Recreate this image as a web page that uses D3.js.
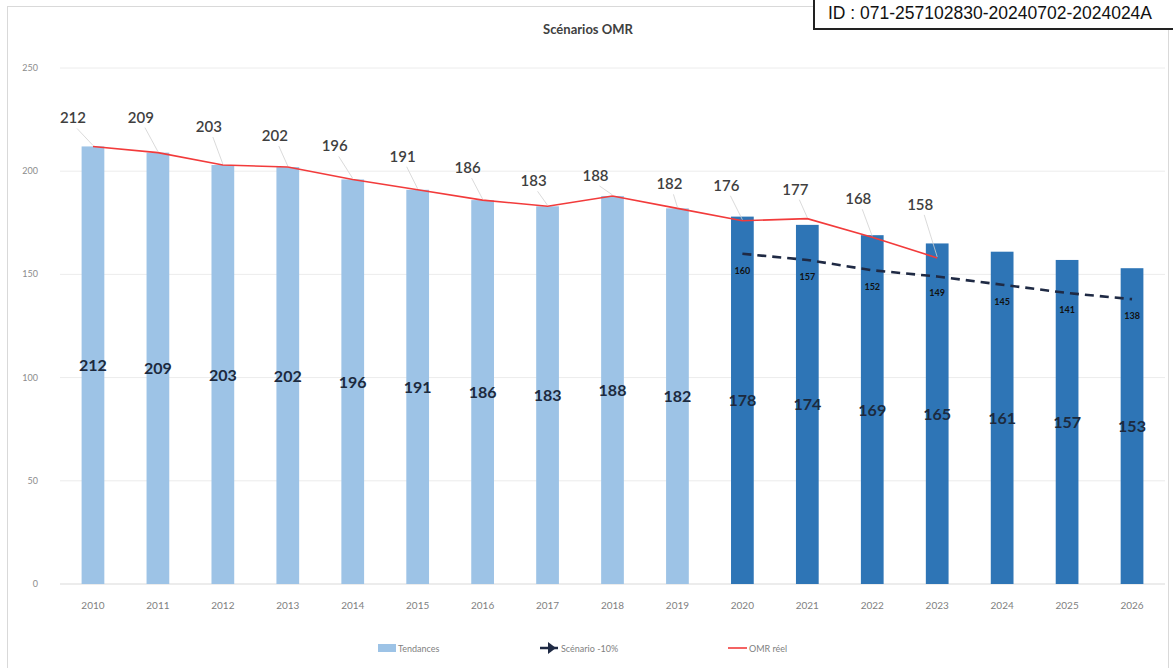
<!DOCTYPE html>
<html>
<head>
<meta charset="utf-8">
<script src="https://cdn.jsdelivr.net/npm/d3@7"></script>
<style>
  body { margin: 0; background: #fff; }
  svg { display: block; }
</style>
</head>
<body>
<div id="chart"></div>
<script>
var years = ["2010", "2011", "2012", "2013", "2014", "2015", "2016", "2017", "2018",
             "2019", "2020", "2021", "2022", "2023", "2024", "2025", "2026"];
var tendances = [212, 209, 203, 202, 196, 191, 186, 183, 188, 182, 178, 174, 169, 165, 161, 157, 153];
var omrYears = ["2010", "2011", "2012", "2013", "2014", "2015", "2016", "2017", "2018",
                "2019", "2020", "2021", "2022", "2023"];
var omrReel = [212, 209, 203, 202, 196, 191, 186, 183, 188, 182, 176, 177, 168, 158];
var scenarioYears = ["2020", "2021", "2022", "2023", "2024", "2025", "2026"];
var scenario = [160, 157, 152, 149, 145, 141, 138];
var yTicks = [0, 50, 100, 150, 200, 250];

// hand-placed label offsets for the "OMR réel" labels (dx, dy from the point)
var omrLabelShift = [[-20, -28], [-17, -35], [-14, -38], [-13, -31], [-18, -33], [-15, -33],
                     [-15, -32], [-14, -25], [-17, -20], [-8, -24], [-16, -35], [-12, -29],
                     [-14, -38], [-17, -53]];

var width = 1173, height = 668;

var svg = d3.select("#chart").append("svg")
    .attr("width", width)
    .attr("height", height)
    .style("font-family", "Lato, 'Open Sans', sans-serif");

// outer frame
svg.append("rect")
    .attr("x", 7.5).attr("y", 6.5)
    .attr("width", 1161).attr("height", 670)
    .attr("fill", "#fff")
    .attr("stroke", "#d9d9d9");

var x = d3.scaleBand()
    .domain(years)
    .range([60.5, 1164.5])
    .paddingInner(0.65)
    .paddingOuter(0.325);

var y = d3.scaleLinear()
    .domain([0, 250])
    .range([584, 68]);

function cx(yr) { return x(yr) + x.bandwidth() / 2; }

// gridlines
svg.append("g").selectAll("line")
    .data(yTicks.filter(function(d) { return d > 0; }))
    .enter().append("line")
    .attr("x1", 60).attr("x2", 1165)
    .attr("y1", function(d) { return y(d); })
    .attr("y2", function(d) { return y(d); })
    .attr("stroke", "#ececec");

svg.append("line")
    .attr("x1", 60).attr("x2", 1165)
    .attr("y1", y(0)).attr("y2", y(0))
    .attr("stroke", "#d9d9d9");

// y axis labels
svg.append("g").selectAll("text")
    .data(yTicks)
    .enter().append("text")
    .attr("x", 38)
    .attr("y", function(d) { return y(d) + 3; })
    .attr("text-anchor", "end")
    .attr("font-size", 9)
    .attr("fill", "#8c8c8c")
    .text(function(d) { return d; });

// x axis labels
svg.append("g").selectAll("text")
    .data(years)
    .enter().append("text")
    .attr("x", function(d) { return cx(d); })
    .attr("y", 609)
    .attr("text-anchor", "middle")
    .attr("font-size", 10)
    .attr("fill", "#7f7f7f")
    .text(function(d) { return d; });

// bars
svg.append("g").selectAll("rect")
    .data(years)
    .enter().append("rect")
    .attr("x", function(d) { return x(d); })
    .attr("width", x.bandwidth())
    .attr("y", function(d, i) { return y(tendances[i]); })
    .attr("height", function(d, i) { return y(0) - y(tendances[i]); })
    .attr("fill", function(d) { return +d >= 2020 ? "#2e75b6" : "#9dc3e6"; });

// bar value labels
svg.append("g").selectAll("text")
    .data(years)
    .enter().append("text")
    .attr("x", function(d) { return cx(d); })
    .attr("y", function(d, i) { return y(tendances[i] / 2) + 6; })
    .attr("text-anchor", "middle")
    .attr("font-size", 16)
    .attr("font-weight", "bold")
    .attr("fill", "#1c2a3e")
    .text(function(d, i) { return tendances[i]; });

// OMR réel line
var omrLine = d3.line()
    .x(function(d) { return cx(d); })
    .y(function(d, i) { return y(omrReel[i]); });

svg.append("path")
    .datum(omrYears)
    .attr("d", omrLine)
    .attr("fill", "none")
    .attr("stroke", "#f23b3b")
    .attr("stroke-width", 1.6);

// scenario line
var scLine = d3.line()
    .x(function(d) { return cx(d); })
    .y(function(d, i) { return y(scenario[i]); });

svg.append("path")
    .datum(scenarioYears)
    .attr("d", scLine)
    .attr("fill", "none")
    .attr("stroke", "#1f2a44")
    .attr("stroke-width", 2.6)
    .attr("stroke-dasharray", "9,6");

svg.append("g").selectAll("text")
    .data(scenarioYears)
    .enter().append("text")
    .attr("x", function(d) { return cx(d); })
    .attr("y", function(d, i) { return y(scenario[i]) + 20; })
    .attr("text-anchor", "middle")
    .attr("font-size", 9)
    .attr("font-weight", "bold")
    .attr("fill", "#111")
    .text(function(d, i) { return scenario[i]; });

// OMR réel labels with leader lines
var omrLabels = svg.append("g");
omrYears.forEach(function(yr, i) {
    var px = cx(yr), py = y(omrReel[i]);
    var lx = px + omrLabelShift[i][0], ly = py + omrLabelShift[i][1] + 5;
    omrLabels.append("line")
        .attr("x1", lx + 4).attr("y1", ly + 5)
        .attr("x2", px).attr("y2", py - 1)
        .attr("stroke", "#d0d0d0")
        .attr("stroke-width", 0.8);
    omrLabels.append("text")
        .attr("x", lx)
        .attr("y", ly)
        .attr("text-anchor", "middle")
        .attr("font-size", 15)
        .attr("font-weight", 600)
        .attr("fill", "#3f3f3f")
        .text(omrReel[i]);
});

// title
svg.append("text")
    .attr("x", 588).attr("y", 34)
    .attr("text-anchor", "middle")
    .attr("font-size", 13)
    .attr("font-weight", "bold")
    .attr("fill", "#404040")
    .text("Scénarios  OMR");

// legend
var lg = svg.append("g").attr("font-size", 9).attr("fill", "#7f7f7f");
lg.append("rect").attr("x", 378).attr("y", 644).attr("width", 18).attr("height", 8).attr("fill", "#9dc3e6");
lg.append("text").attr("x", 398).attr("y", 651.5).text("Tendances");
lg.append("line").attr("x1", 540).attr("x2", 558).attr("y1", 648).attr("y2", 648)
    .attr("stroke", "#1f2a44").attr("stroke-width", 2.5);
lg.append("path").attr("d", "M548,642 L556,648 L548,654 Z").attr("fill", "#1f2a44");
lg.append("text").attr("x", 561).attr("y", 651.5).text("Scénario -10%");
lg.append("line").attr("x1", 728).attr("x2", 747).attr("y1", 648).attr("y2", 648)
    .attr("stroke", "#f23b3b").attr("stroke-width", 1.6);
lg.append("text").attr("x", 749).attr("y", 651.5).text("OMR réel");

// ID box
svg.append("rect")
    .attr("x", 814).attr("y", -2)
    .attr("width", 362).attr("height", 31)
    .attr("fill", "#fff")
    .attr("stroke", "#222")
    .attr("stroke-width", 2);
svg.append("text")
    .attr("x", 828).attr("y", 19)
    .attr("font-family", "'Liberation Sans', Arial, sans-serif")
    .attr("font-size", 17.5)
    .attr("fill", "#111")
    .text("ID : 071-257102830-20240702-2024024A");
</script>
</body>
</html>
